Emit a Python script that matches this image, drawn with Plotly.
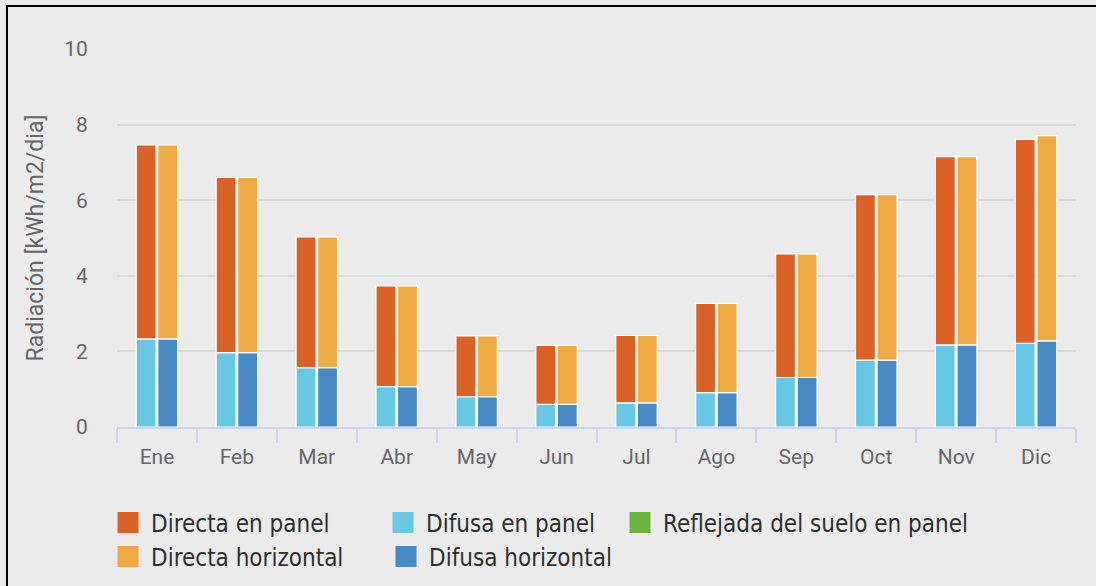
import plotly.graph_objects as go

months = ["Ene", "Feb", "Mar", "Abr", "May", "Jun", "Jul", "Ago", "Sep", "Oct", "Nov", "Dic"]
difusa_panel = [2.33, 1.97, 1.57, 1.07, 0.80, 0.60, 0.64, 0.91, 1.31, 1.77, 2.17, 2.21]
directa_panel = [5.13, 4.63, 3.46, 2.66, 1.61, 1.56, 1.78, 2.36, 3.27, 4.38, 4.98, 5.40]
reflejada_panel = [0, 0, 0, 0, 0, 0, 0, 0, 0, 0, 0, 0]
difusa_horizontal = [2.33, 1.97, 1.57, 1.07, 0.80, 0.60, 0.64, 0.91, 1.31, 1.77, 2.17, 2.28]
directa_horizontal = [5.13, 4.63, 3.46, 2.66, 1.61, 1.56, 1.78, 2.36, 3.27, 4.38, 4.98, 5.43]
y_ticks = [0, 2, 4, 6, 8, 10]

C_DIR_PAN = "#DC6127"
C_DIF_PAN = "#68C8E3"
C_REF = "#6BB23C"
C_DIR_HOR = "#F0AA44"
C_DIF_HOR = "#4589C5"
BG = "#EBEBEB"

TICK_FONT = dict(family="Roboto", size=21, color="#666666")
LEG_FONT = dict(family="DejaVu Sans Condensed", size=24, color="#2E2E2E")

fig = go.Figure()
line_w = dict(color="white", width=1.2)

panel_top = [a + b for a, b in zip(difusa_panel, directa_panel)]

fig.add_bar(x=months, y=difusa_panel, offsetgroup="panel", marker=dict(color=C_DIF_PAN, line=line_w),
            showlegend=False, name="Difusa en panel")
fig.add_bar(x=months, y=directa_panel, base=difusa_panel, offsetgroup="panel",
            marker=dict(color=C_DIR_PAN, line=line_w), showlegend=False, name="Directa en panel")
fig.add_bar(x=months, y=reflejada_panel, base=panel_top, offsetgroup="panel",
            marker=dict(color=C_REF, line=dict(width=0)), showlegend=False, name="Reflejada del suelo en panel")
fig.add_bar(x=months, y=difusa_horizontal, offsetgroup="horiz", marker=dict(color=C_DIF_HOR, line=line_w),
            showlegend=False, name="Difusa horizontal")
fig.add_bar(x=months, y=directa_horizontal, base=difusa_horizontal, offsetgroup="horiz",
            marker=dict(color=C_DIR_HOR, line=line_w), showlegend=False, name="Directa horizontal")

# legend proxies
L, R, T, B = 117, 20, 49, 159
W, H = 1096, 586
pw, ph = W - L - R, H - T - B

def px_x(p):
    return (p - L) / pw

def px_y(p):
    return (H - B - p) / ph

legend_items = [
    ("Directa en panel", C_DIR_PAN, "legend", 105, 523),
    ("Difusa en panel", C_DIF_PAN, "legend2", 380, 523),
    ("Reflejada del suelo en panel", C_REF, "legend3", 617, 523),
    ("Directa horizontal", C_DIR_HOR, "legend4", 105, 557),
    ("Difusa horizontal", C_DIF_HOR, "legend5", 383, 557),
]
legend_layouts = {}
for name, col, lg, lx, ly in legend_items:
    fig.add_scatter(x=[None], y=[None], mode="markers", name=name, legend=lg,
                    marker=dict(symbol="square", size=16, color=col, line=dict(color=col, width=5)))
    legend_layouts[lg] = dict(x=px_x(lx), y=px_y(ly), xanchor="left", yanchor="middle", itemwidth=36,
                              bgcolor="rgba(0,0,0,0)", font=LEG_FONT, borderwidth=0)

fig.update_layout(
    width=W, height=H,
    margin=dict(l=L, r=R, t=T, b=B, autoexpand=False),
    paper_bgcolor=BG, plot_bgcolor=BG,
    barmode="group", bargap=0.46, bargroupgap=0.08,
    xaxis=dict(type="category", tickson="boundaries", ticks="outside", ticklen=14, tickwidth=1.5,
               tickcolor="#CCD6EB", showline=True, linecolor="#CCD6EB", linewidth=1.5,
               showgrid=False, tickfont=TICK_FONT, ticklabelstandoff=10, fixedrange=True),
    yaxis=dict(range=[0, 10], tickvals=y_ticks, showgrid=True, gridcolor="#D9D9D9", gridwidth=1.5,
               zeroline=False, showline=False, tickfont=TICK_FONT, ticks="outside", ticklen=0,
               ticklabelstandoff=24, fixedrange=True,
               title=dict(text="Radiación [kWh/m2/dia]", font=dict(family="Roboto", size=23, color="#666666"),
                          standoff=14)),
    shapes=[
        dict(type="line", xref="paper", yref="paper", x0=px_x(7), x1=px_x(7), y0=px_y(5), y1=px_y(586),
             line=dict(color="black", width=2)),
        dict(type="line", xref="paper", yref="paper", x0=px_x(6), x1=px_x(1096), y0=px_y(6), y1=px_y(6),
             line=dict(color="black", width=2)),
    ],
    **legend_layouts,
)

fig.write_html(
    "out.html",
    config={"displayModeBar": False},
    post_script=(
        "document.body.style.margin='0';document.body.style.overflow='hidden';"
        "document.documentElement.style.overflow='hidden';"
    ),
)
